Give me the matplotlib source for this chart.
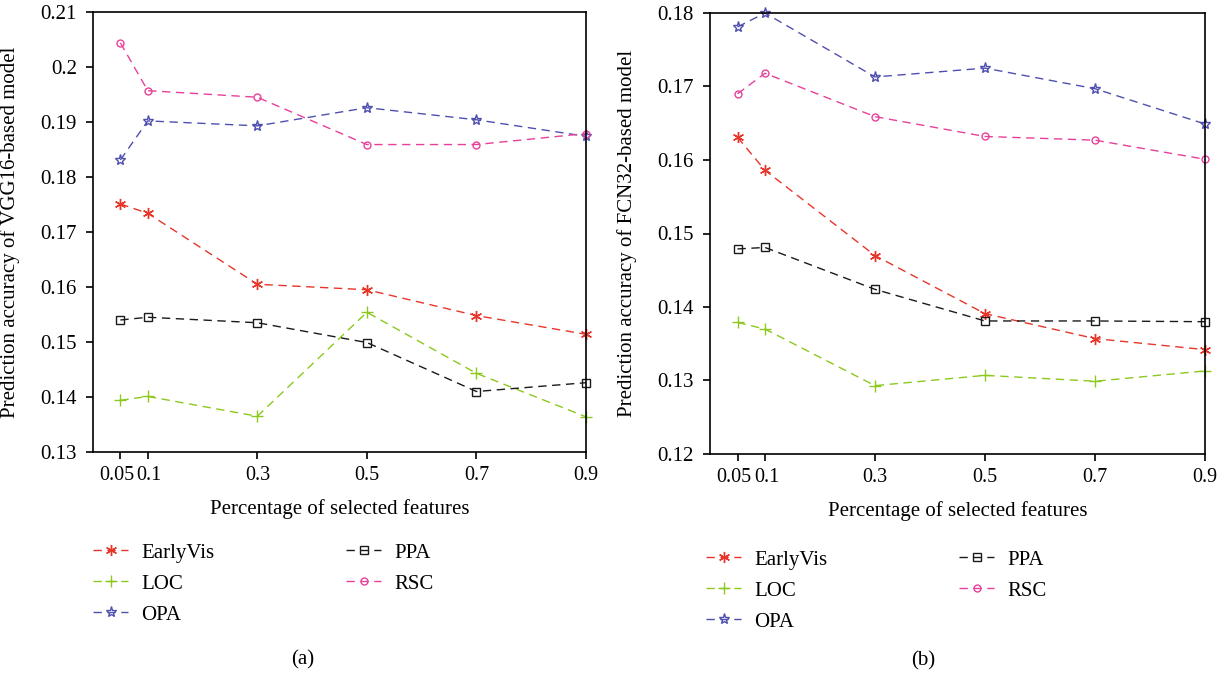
import matplotlib
matplotlib.use("Agg")
import matplotlib.pyplot as plt
from matplotlib.transforms import ScaledTranslation

plt.rcParams['font.family'] = ['Liberation Serif', 'DejaVu Serif']

x = [0.05, 0.1, 0.3, 0.5, 0.7, 0.9]
xticklabels = ['0.05', '0.1', '0.3', '0.5', '0.7', '0.9']
series_names = ['EarlyVis', 'LOC', 'OPA', 'PPA', 'RSC']

vgg_earlyvis = [0.1751, 0.1734, 0.1605, 0.1595, 0.1548, 0.1514]
vgg_loc = [0.1394, 0.1401, 0.1365, 0.1554, 0.1443, 0.1364]
vgg_opa = [0.1831, 0.1902, 0.1893, 0.1926, 0.1904, 0.1874]
vgg_ppa = [0.1540, 0.1545, 0.1535, 0.1499, 0.1410, 0.1426]
vgg_rsc = [0.2044, 0.1957, 0.1945, 0.1859, 0.1859, 0.1879]

fcn_earlyvis = [0.1631, 0.1586, 0.1470, 0.1391, 0.1357, 0.1342]
fcn_loc = [0.1379, 0.1370, 0.1293, 0.1307, 0.1299, 0.1313]
fcn_opa = [0.1781, 0.1800, 0.1713, 0.1725, 0.1697, 0.1649]
fcn_ppa = [0.1479, 0.1481, 0.1424, 0.1381, 0.1381, 0.1380]
fcn_rsc = [0.1690, 0.1718, 0.1659, 0.1632, 0.1627, 0.1601]

colors = ['#e8352a', '#8cc81e', '#4f4fb0', '#1a1a1a', '#e8409a']
markers = [(6, 2, 0), '+', '*', 's', 'o']
fills = ['full', 'full', 'none', 'none', 'none']
msizes = [8, 9, 8, 5.5, 5]

fig = plt.figure(figsize=(12.29, 6.76), dpi=100)
W, H = 1229, 676

def px_axes(l, t, r, b):
    return fig.add_axes([l / W, 1 - b / H, (r - l) / W, (b - t) / H])

ax1 = px_axes(93, 12, 586, 452)
ax2 = px_axes(710, 13, 1205, 454)

def draw(ax, data, ylim, yticks, ylabel):
    handles = []
    for vals, c, m, f, ms, name in zip(data, colors, markers, fills, msizes, series_names):
        h, = ax.plot(x, vals, linestyle=(0, (6, 4)), color=c, marker=m,
                     fillstyle=f, markersize=ms, markeredgewidth=1.0,
                     linewidth=1.0, label=name, clip_on=False)
        handles.append(h)
    ax.set_xlim(0, 0.9)
    ax.set_ylim(*ylim)
    ax.set_xticks(x)
    ax.set_xticklabels(xticklabels)
    ax.set_yticks(yticks)
    ax.set_yticklabels([('%g' % t) for t in yticks])
    ax.tick_params(direction='out', labelsize=15, length=5, width=1.2)
    ax.tick_params(axis='y', pad=6.5)
    ax.tick_params(axis='x', pad=5, labelsize=14.5)
    # nudge the two crowded labels apart slightly, as in the reference
    labs = ax.get_xticklabels()
    labs[0].set_transform(labs[0].get_transform() + ScaledTranslation(-4 / 100, 0, fig.dpi_scale_trans))
    labs[1].set_transform(labs[1].get_transform() + ScaledTranslation(1.5 / 100, 0, fig.dpi_scale_trans))
    for s in ax.spines.values():
        s.set_linewidth(1.2)
    ax.set_xlabel('Percentage of selected features', fontsize=15, labelpad=10)
    ax.set_ylabel(ylabel, fontsize=15, labelpad=15)
    return handles

h1 = draw(ax1, [vgg_earlyvis, vgg_loc, vgg_opa, vgg_ppa, vgg_rsc], (0.13, 0.21),
          [0.13, 0.14, 0.15, 0.16, 0.17, 0.18, 0.19, 0.20, 0.21],
          'Prediction accuracy of VGG16-based model')
h2 = draw(ax2, [fcn_earlyvis, fcn_loc, fcn_opa, fcn_ppa, fcn_rsc], (0.12, 0.18),
          [0.12, 0.13, 0.14, 0.15, 0.16, 0.17, 0.18],
          'Prediction accuracy of FCN32-based model')

def legend_col(handles, labels, xpx, ypx):
    fig.legend(handles=handles, labels=labels, frameon=False, fontsize=15,
               loc='upper left', bbox_to_anchor=(xpx / W, 1 - ypx / H),
               borderpad=0, borderaxespad=0, handlelength=1.7,
               handletextpad=0.6, labelspacing=0.55)

legend_col(h1[:3], series_names[:3], 93, 543)
legend_col(h1[3:], series_names[3:], 346, 543)
legend_col(h2[:3], series_names[:3], 706, 550)
legend_col(h2[3:], series_names[3:], 959, 550)

fig.text(303 / W, 1 - 660 / H, '(a)', ha='center', va='center', fontsize=15)
fig.text(923 / W, 1 - 661 / H, '(b)', ha='center', va='center', fontsize=15)

fig.savefig('out.png', dpi=100)
